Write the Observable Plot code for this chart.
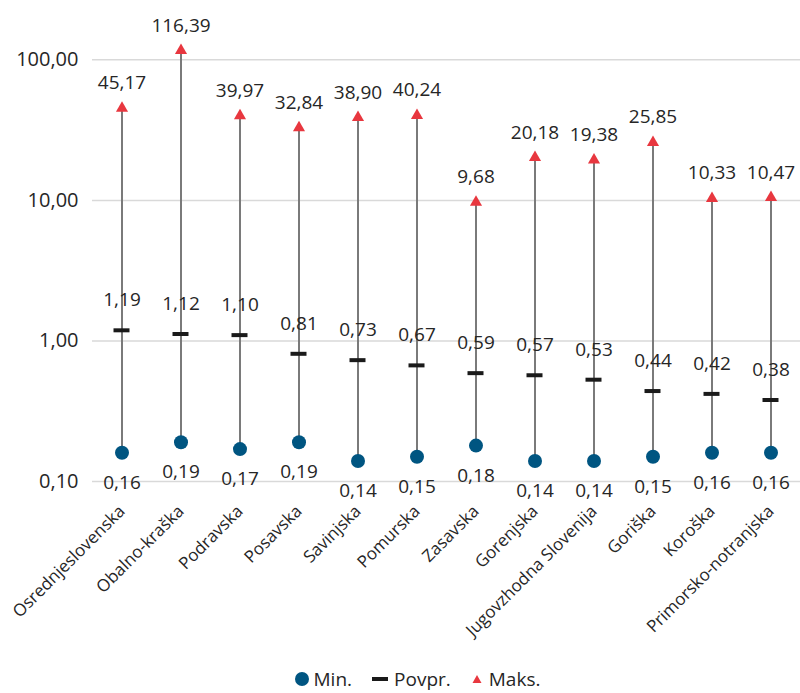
<!DOCTYPE html>
<html>
<head>
<meta charset="utf-8">
<script src="https://cdn.jsdelivr.net/npm/d3@7"></script>
<script src="https://cdn.jsdelivr.net/npm/@observablehq/plot@0.6"></script>
<style>
  body { margin: 0; background: #fff; font-family: "Open Sans", Lato, sans-serif; overflow: hidden; }
  #chart svg { display: block; }
  .legend { display: flex; justify-content: center; align-items: center; gap: 18px; height: 29px; line-height: 24px; font-size: 19px; color: #262626; padding-left: 34px; }
  .legend span.item { display: flex; align-items: center; gap: 4px; }
</style>
</head>
<body>
<div id="chart"></div>
<div class="legend">
  <span class="item"><svg width="16" height="16"><circle cx="8" cy="8" r="7" fill="#005581"/></svg>Min.</span>
  <span class="item"><svg width="20" height="16"><rect x="2" y="6" width="16" height="4" fill="#1a1a1a"/></svg>Povpr.</span>
  <span class="item"><svg width="16" height="16"><path d="M8,4 L12.5,12 L3.5,12 Z" fill="#e8373f"/></svg>Maks.</span>
</div>
<script>
const regions = ["Osrednjeslovenska","Obalno-kraška","Podravska","Posavska","Savinjska","Pomurska","Zasavska","Gorenjska","Jugovzhodna Slovenija","Goriška","Koroška","Primorsko-notranjska"];
const minVals = [0.16,0.19,0.17,0.19,0.14,0.15,0.18,0.14,0.14,0.15,0.16,0.16];
const meanVals = [1.19,1.12,1.10,0.81,0.73,0.67,0.59,0.57,0.53,0.44,0.42,0.38];
const maxVals = [45.17,116.39,39.97,32.84,38.90,40.24,9.68,20.18,19.38,25.85,10.33,10.47];
const yTicks = [0.1, 1, 10, 100];

const data = regions.map((r, i) => ({region: r, min: minVals[i], mean: meanVals[i], max: maxVals[i]}));
const loc = d3.formatLocale({decimal: ",", thousands: ".", grouping: [3], currency: ["", ""]});
const fmt = loc.format(".2f");

const chart = Plot.plot({
  width: 800,
  height: 664,
  marginLeft: 92,
  marginRight: 0,
  marginTop: 17,
  marginBottom: 183,
  style: {fontFamily: '"Open Sans", Lato, sans-serif', fontSize: "19px", color: "#262626", background: "#fff"},
  x: {domain: regions, padding: 0, label: null},
  y: {type: "log", domain: [0.1, 200], label: null},
  marks: [
    Plot.ruleY(yTicks, {stroke: "#d9d9d9", strokeWidth: 1.5}),
    Plot.axisY({ticks: yTicks, tickFormat: fmt, tickSize: 0, tickPadding: 14, fontSize: 20, label: null}),
    Plot.axisX({tickSize: 0, tickPadding: 27, tickRotate: -45, fontSize: 17, label: null}),
    Plot.ruleX(data, {x: "region", y1: "min", y2: "max", stroke: "#7a7a7a", strokeWidth: 2}),
    Plot.dot(data, {x: "region", y: "min", r: 7, fill: "#005581"}),
    Plot.tickY(data, {x: "region", y: "mean", stroke: "#1a1a1a", strokeWidth: 4, insetLeft: 21.5, insetRight: 21.5}),
    Plot.dot(data, {x: "region", y: "max", symbol: "triangle", r: 4.5, fill: "#e8373f"}),
    Plot.text(data, {x: "region", y: "max", text: d => fmt(d.max), dy: -25, fontSize: 19, fill: "#262626"}),
    Plot.text(data, {x: "region", y: "mean", text: d => fmt(d.mean), dy: -30, fontSize: 19, fill: "#262626"}),
    Plot.text(data, {x: "region", y: "min", text: d => fmt(d.min), dy: 30, fontSize: 19, fill: "#262626"})
  ]
});
document.getElementById("chart").appendChild(chart);
</script>
</body>
</html>
